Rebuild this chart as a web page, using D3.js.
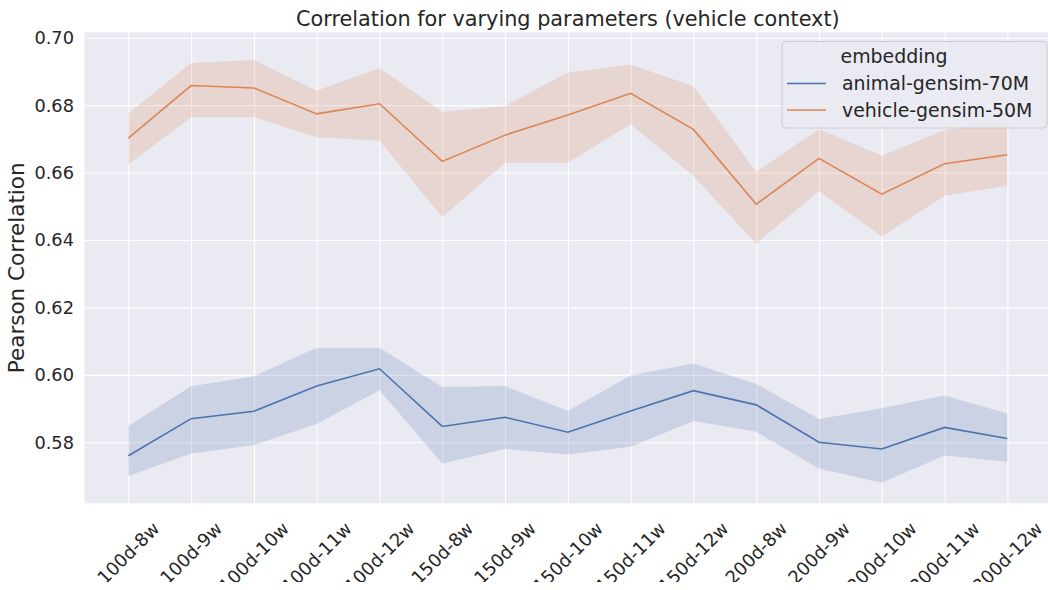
<!DOCTYPE html>
<html>
<head>
<meta charset="utf-8">
<script src="https://cdn.jsdelivr.net/npm/d3@7"></script>
<style>
  body { margin: 0; background: #fff; }
  svg { display: block; font-family: "DejaVu Sans", sans-serif; }
</style>
</head>
<body>
<svg width="1048" height="590"></svg>
<script>
// configurations along the x axis
var categories = ["100d-8w", "100d-9w", "100d-10w", "100d-11w", "100d-12w",
                  "150d-8w", "150d-9w", "150d-10w", "150d-11w", "150d-12w",
                  "200d-8w", "200d-9w", "200d-10w", "200d-11w", "200d-12w"];

var seriesNames = ["animal-gensim-70M", "vehicle-gensim-50M"];

var animalMean = [0.5760, 0.5870, 0.5892, 0.5967, 0.6018, 0.5847, 0.5874, 0.5830, 0.5893, 0.5953, 0.5911, 0.5800, 0.5780, 0.5844, 0.5811];
var animalLow  = [0.5700, 0.5767, 0.5792, 0.5854, 0.5954, 0.5737, 0.5780, 0.5764, 0.5787, 0.5863, 0.5831, 0.5722, 0.5680, 0.5761, 0.5742];
var animalHigh = [0.5848, 0.5966, 0.5996, 0.6080, 0.6080, 0.5964, 0.5967, 0.5893, 0.5998, 0.6034, 0.5973, 0.5869, 0.5901, 0.5939, 0.5885];

var vehicleMean = [0.6702, 0.6858, 0.6851, 0.6774, 0.6804, 0.6633, 0.6711, 0.6771, 0.6835, 0.6728, 0.6506, 0.6642, 0.6536, 0.6626, 0.6653];
var vehicleLow  = [0.6625, 0.6764, 0.6764, 0.6705, 0.6694, 0.6468, 0.6629, 0.6629, 0.6743, 0.6590, 0.6389, 0.6545, 0.6410, 0.6531, 0.6561];
var vehicleHigh = [0.6775, 0.6925, 0.6934, 0.6843, 0.6910, 0.6780, 0.6797, 0.6897, 0.6920, 0.6857, 0.6602, 0.6729, 0.6650, 0.6726, 0.6753];

var yTicks = [0.58, 0.60, 0.62, 0.64, 0.66, 0.68, 0.70];

var colors = ["#4c72b0", "#dd8452"];
var textColor = "#262626";

var svg = d3.select("svg");
// plot box (avoid "top" - it's a read-only window global)
var plotL = 84.4, plotR = 1051.3, plotT = 32.3, plotB = 503.3;

var x = d3.scaleLinear().domain([-0.7, categories.length - 1 + 0.7]).range([plotL, plotR]);
var y = d3.scaleLinear().domain([0.5619, 0.7016]).range([plotB, plotT]);

// the original figure was cropped just below the tick labels
svg.append("defs").append("clipPath").attr("id", "figclip")
	.append("rect").attr("x", 0).attr("y", 0).attr("width", 1048).attr("height", 582);

// background
svg.append("rect")
	.attr("x", plotL).attr("y", plotT)
	.attr("width", plotR - plotL).attr("height", plotB - plotT)
	.style("fill", "#eaeaf2");

// grid
var plot = svg.append("g");
plot.append("g")
	.attr("transform", "translate(0," + plotB + ")")
	.call(d3.axisBottom(x).tickValues(d3.range(categories.length)).tickSize(-(plotB - plotT)).tickFormat(""))
	.call(function(g){ g.select(".domain").remove(); })
	.selectAll("line").style("stroke", "#fff").style("stroke-width", 1.1);
plot.append("g")
	.attr("transform", "translate(" + plotL + ",0)")
	.call(d3.axisLeft(y).tickValues(yTicks).tickSize(-(plotR - plotL)).tickFormat(""))
	.call(function(g){ g.select(".domain").remove(); })
	.selectAll("line").style("stroke", "#fff").style("stroke-width", 1.1);

var series = [
	{ name: seriesNames[0], mean: animalMean, low: animalLow, high: animalHigh, color: colors[0] },
	{ name: seriesNames[1], mean: vehicleMean, low: vehicleLow, high: vehicleHigh, color: colors[1] }
];

var area = d3.area()
	.x(function(d, i){ return x(i); })
	.y0(function(d){ return y(d[0]); })
	.y1(function(d){ return y(d[1]); });
var line = d3.line()
	.x(function(d, i){ return x(i); })
	.y(function(d){ return y(d); });

series.forEach(function(s){
	var band = s.low.map(function(v, i){ return [v, s.high[i]]; });
	plot.append("path")
		.attr("d", area(band))
		.style("fill", s.color)
		.style("fill-opacity", 0.2);
	plot.append("path")
		.attr("d", line(s.mean))
		.style("fill", "none")
		.style("stroke", s.color)
		.style("stroke-width", 1.6);
});

// y tick labels
svg.selectAll(".ylab")
	.data(yTicks)
	.enter().append("text")
	.attr("x", 74)
	.attr("y", function(d){ return y(d); })
	.attr("dy", "0.36em")
	.attr("text-anchor", "end")
	.style("font-size", "17.8px")
	.style("fill", textColor)
	.text(function(d){ return d.toFixed(2); });

// x tick labels, rotated 45 and centred on the tick like matplotlib
var fs = 18;
svg.append("g").attr("clip-path", "url(#figclip)")
	.selectAll(".xlab")
	.data(categories)
	.enter().append("text")
	.attr("text-anchor", "middle")
	.attr("dy", "0.35em")
	.style("font-size", fs + "px")
	.style("fill", textColor)
	.text(function(d){ return d; })
	.attr("transform", function(d, i){
		var L = this.getComputedTextLength();
		var h = fs * 1.0;
		var half = (L + h) * Math.SQRT1_2 / 2;
		return "translate(" + x(i) + "," + (519 + half) + ") rotate(-45)";
	});

// axis label and title
svg.append("text")
	.attr("transform", "translate(24," + ((plotT + plotB) / 2) + ") rotate(-90)")
	.attr("text-anchor", "middle")
	.style("font-size", "21.5px")
	.style("fill", textColor)
	.text("Pearson Correlation");

svg.append("text")
	.attr("x", (plotL + plotR) / 2)
	.attr("y", 26)
	.attr("text-anchor", "middle")
	.style("font-size", "20.8px")
	.style("fill", textColor)
	.text("Correlation for varying parameters (vehicle context)");

// legend
var lg = svg.append("g");
lg.append("rect")
	.attr("x", 782).attr("y", 41.5)
	.attr("width", 265).attr("height", 86.5)
	.attr("rx", 4)
	.style("fill", "#eaeaf2").style("fill-opacity", 0.8)
	.style("stroke", "#cccccc").style("stroke-width", 1);
lg.append("text")
	.attr("x", 894).attr("y", 63)
	.attr("text-anchor", "middle")
	.style("font-size", "18.9px")
	.style("fill", textColor)
	.text("embedding");
series.forEach(function(s, i){
	var ly = 83.5 + i * 26.5;
	lg.append("line")
		.attr("x1", 787).attr("x2", 826)
		.attr("y1", ly).attr("y2", ly)
		.style("stroke", s.color).style("stroke-width", 1.6);
	lg.append("text")
		.attr("x", 842).attr("y", ly)
		.attr("dy", "0.36em")
		.style("font-size", "18.9px")
		.style("fill", textColor)
		.text(s.name);
});
</script>
</body>
</html>
